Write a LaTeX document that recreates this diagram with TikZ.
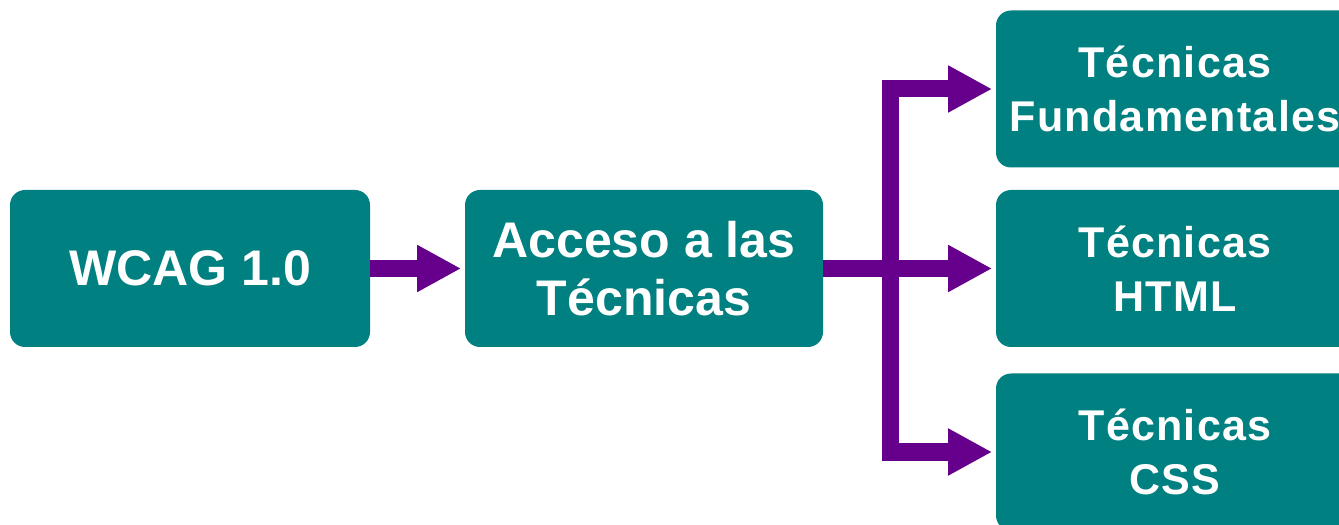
\documentclass[tikz,border=0pt]{standalone}
\usepackage{fontspec}
\setmainfont{Liberation Sans}
\usetikzlibrary{arrows.meta}
\definecolor{boxteal}{RGB}{0,128,128}
\definecolor{flowpurple}{RGB}{102,0,140}

\begin{document}
\begin{tikzpicture}[
    box/.style={fill=boxteal, text=white, rounded corners=0.375cm, minimum width=8.95cm, minimum height=3.925cm, align=center, font=\bfseries\addfontfeatures{LetterSpace=3}\fontsize{30.6}{38.4}\selectfont},
    bigbox/.style={box, font=\bfseries\fontsize{35.6}{41.3}\selectfont},
    flow/.style={draw=flowpurple, line width=0.425cm, -{Triangle[length=1.1cm, width=1.1cm]}, shorten >=0.09cm}
  ]
  \useasboundingbox (0,0) rectangle (33.475,13.1);
  \node [bigbox, minimum width=9cm] (wcag) at (4.75,6.3875) {WCAG 1.0};
  \node [bigbox] (acceso) at (16.1,6.3875) {Acceso a las \\ Técnicas};
  \node [box] (fund) at (29.375,10.875) {Técnicas \\ Fundamentales};
  \node [box] (html) at (29.375,6.3875) {Técnicas \\ HTML};
  \node [box] (css) at (29.375,1.8) {Técnicas \\ CSS};
  \coordinate (split) at (22.25,6.3875);
  \draw [flow] (wcag) -- (acceso);
  \draw [flow] (acceso) -- (html);
  \draw [flow] (split) |- (fund);
  \draw [flow] (split) |- (css);
\end{tikzpicture}
\end{document}
